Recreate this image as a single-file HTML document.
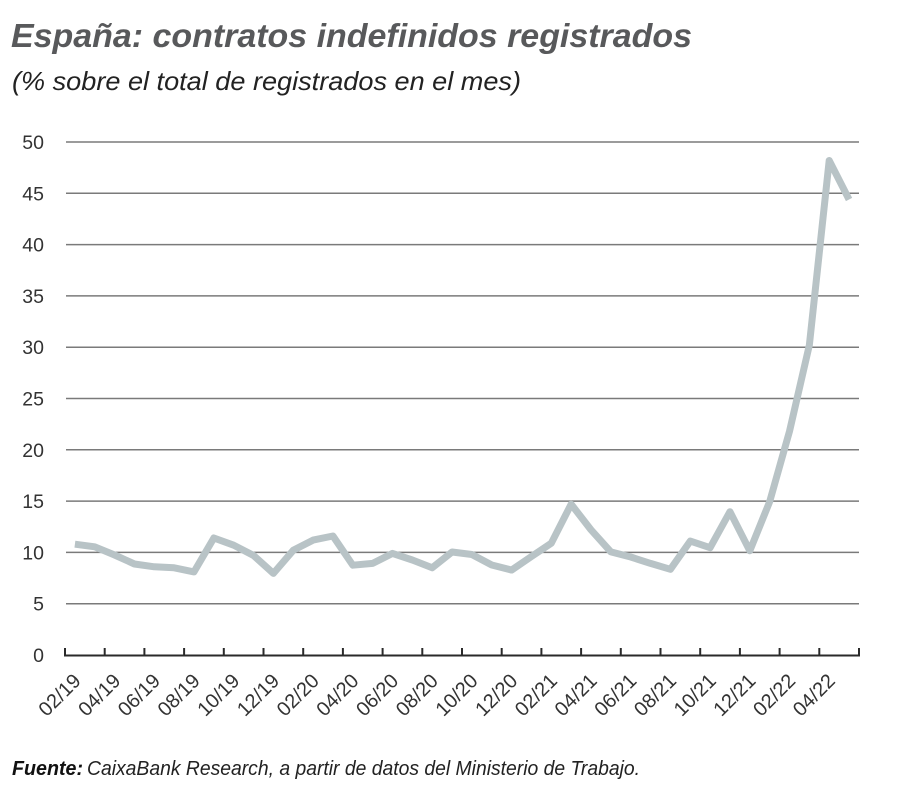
<!DOCTYPE html>
<html><head><meta charset="utf-8"><style>
html,body{margin:0;padding:0;background:#fff;}
svg{display:block;}
</style></head><body>
<svg width="900" height="797" viewBox="0 0 900 797" xmlns="http://www.w3.org/2000/svg">
<text x="11" y="47" font-family="Liberation Sans, sans-serif" font-weight="bold" font-style="italic" font-size="33" fill="#58595b" textLength="681" lengthAdjust="spacingAndGlyphs">España: contratos indefinidos registrados</text>
<text x="12" y="90" font-family="Liberation Sans, sans-serif" font-style="italic" font-size="26" fill="#222" textLength="509" lengthAdjust="spacingAndGlyphs">(% sobre el total de registrados en el mes)</text>
<g stroke="#7a7a7a" stroke-width="1.5">
<line x1="66" y1="142" x2="859" y2="142"/>
<line x1="66" y1="193.3" x2="859" y2="193.3"/>
<line x1="66" y1="244.6" x2="859" y2="244.6"/>
<line x1="66" y1="295.9" x2="859" y2="295.9"/>
<line x1="66" y1="347.2" x2="859" y2="347.2"/>
<line x1="66" y1="398.5" x2="859" y2="398.5"/>
<line x1="66" y1="449.8" x2="859" y2="449.8"/>
<line x1="66" y1="501.1" x2="859" y2="501.1"/>
<line x1="66" y1="552.4" x2="859" y2="552.4"/>
<line x1="66" y1="603.7" x2="859" y2="603.7"/>
</g>
<g font-family="Liberation Sans, sans-serif" font-size="19.5" fill="#333" text-anchor="end">
<text x="44" y="149">50</text>
<text x="44" y="200.3">45</text>
<text x="44" y="251.6">40</text>
<text x="44" y="302.9">35</text>
<text x="44" y="354.2">30</text>
<text x="44" y="405.5">25</text>
<text x="44" y="456.8">20</text>
<text x="44" y="508.1">15</text>
<text x="44" y="559.4">10</text>
<text x="44" y="610.7">5</text>
<text x="44" y="662">0</text>
</g>
<polyline fill="none" stroke="#b8c3c6" stroke-width="7" stroke-linejoin="round" stroke-linecap="butt" points="74.9,544.2 94.75,546.8 114.6,555 134.45,564 154.3,566.8 174.15,567.8 194,571.9 213.85,538 233.7,545.2 253.55,555.5 273.4,573.4 293.25,550.3 313.1,540.1 332.95,536 352.8,565.2 372.65,563.4 392.5,553.4 412.35,560 432.2,567.8 452.05,552 471.9,554.5 491.75,565 511.6,570.05 531.45,556.5 551.3,543.2 571.15,504.2 591,529.8 610.85,551.9 630.7,557 650.55,563.4 670.4,569.3 690.25,541.1 710.1,547.7 729.95,511.7 749.8,550.8 769.65,501.7 789.5,431.3 809.35,345.1 829.2,160.5 849.05,199.5"/>
<g stroke="#2a2a2a" stroke-width="2">
<line x1="64" y1="655.5" x2="860" y2="655.5"/>
<line x1="65" y1="648" x2="65" y2="656"/>
<line x1="104.7" y1="648" x2="104.7" y2="656"/>
<line x1="144.4" y1="648" x2="144.4" y2="656"/>
<line x1="184.1" y1="648" x2="184.1" y2="656"/>
<line x1="223.8" y1="648" x2="223.8" y2="656"/>
<line x1="263.5" y1="648" x2="263.5" y2="656"/>
<line x1="303.2" y1="648" x2="303.2" y2="656"/>
<line x1="342.9" y1="648" x2="342.9" y2="656"/>
<line x1="382.6" y1="648" x2="382.6" y2="656"/>
<line x1="422.3" y1="648" x2="422.3" y2="656"/>
<line x1="462" y1="648" x2="462" y2="656"/>
<line x1="501.7" y1="648" x2="501.7" y2="656"/>
<line x1="541.4" y1="648" x2="541.4" y2="656"/>
<line x1="581.1" y1="648" x2="581.1" y2="656"/>
<line x1="620.8" y1="648" x2="620.8" y2="656"/>
<line x1="660.5" y1="648" x2="660.5" y2="656"/>
<line x1="700.2" y1="648" x2="700.2" y2="656"/>
<line x1="739.9" y1="648" x2="739.9" y2="656"/>
<line x1="779.6" y1="648" x2="779.6" y2="656"/>
<line x1="819.3" y1="648" x2="819.3" y2="656"/>
<line x1="859" y1="648" x2="859" y2="656"/>
</g>
<g font-family="Liberation Sans, sans-serif" font-size="20" fill="#333" text-anchor="end">
<text transform="translate(82,682) rotate(-45)" textLength="50" lengthAdjust="spacingAndGlyphs">02/19</text>
<text transform="translate(121.7,682) rotate(-45)" textLength="50" lengthAdjust="spacingAndGlyphs">04/19</text>
<text transform="translate(161.4,682) rotate(-45)" textLength="50" lengthAdjust="spacingAndGlyphs">06/19</text>
<text transform="translate(201.1,682) rotate(-45)" textLength="50" lengthAdjust="spacingAndGlyphs">08/19</text>
<text transform="translate(240.8,682) rotate(-45)" textLength="50" lengthAdjust="spacingAndGlyphs">10/19</text>
<text transform="translate(280.5,682) rotate(-45)" textLength="50" lengthAdjust="spacingAndGlyphs">12/19</text>
<text transform="translate(320.2,682) rotate(-45)" textLength="50" lengthAdjust="spacingAndGlyphs">02/20</text>
<text transform="translate(359.9,682) rotate(-45)" textLength="50" lengthAdjust="spacingAndGlyphs">04/20</text>
<text transform="translate(399.6,682) rotate(-45)" textLength="50" lengthAdjust="spacingAndGlyphs">06/20</text>
<text transform="translate(439.3,682) rotate(-45)" textLength="50" lengthAdjust="spacingAndGlyphs">08/20</text>
<text transform="translate(479,682) rotate(-45)" textLength="50" lengthAdjust="spacingAndGlyphs">10/20</text>
<text transform="translate(518.7,682) rotate(-45)" textLength="50" lengthAdjust="spacingAndGlyphs">12/20</text>
<text transform="translate(558.4,682) rotate(-45)" textLength="50" lengthAdjust="spacingAndGlyphs">02/21</text>
<text transform="translate(598.1,682) rotate(-45)" textLength="50" lengthAdjust="spacingAndGlyphs">04/21</text>
<text transform="translate(637.8,682) rotate(-45)" textLength="50" lengthAdjust="spacingAndGlyphs">06/21</text>
<text transform="translate(677.5,682) rotate(-45)" textLength="50" lengthAdjust="spacingAndGlyphs">08/21</text>
<text transform="translate(717.2,682) rotate(-45)" textLength="50" lengthAdjust="spacingAndGlyphs">10/21</text>
<text transform="translate(756.9,682) rotate(-45)" textLength="50" lengthAdjust="spacingAndGlyphs">12/21</text>
<text transform="translate(796.6,682) rotate(-45)" textLength="50" lengthAdjust="spacingAndGlyphs">02/22</text>
<text transform="translate(836.3,682) rotate(-45)" textLength="50" lengthAdjust="spacingAndGlyphs">04/22</text>
</g>
<text x="12" y="775" font-family="Liberation Sans, sans-serif" font-weight="bold" font-style="italic" font-size="20" fill="#111" textLength="71" lengthAdjust="spacingAndGlyphs">Fuente:</text>
<text x="87" y="775" font-family="Liberation Sans, sans-serif" font-style="italic" font-size="20" fill="#222" textLength="553" lengthAdjust="spacingAndGlyphs">CaixaBank Research, a partir de datos del Ministerio de Trabajo.</text>
</svg>
</body></html>
